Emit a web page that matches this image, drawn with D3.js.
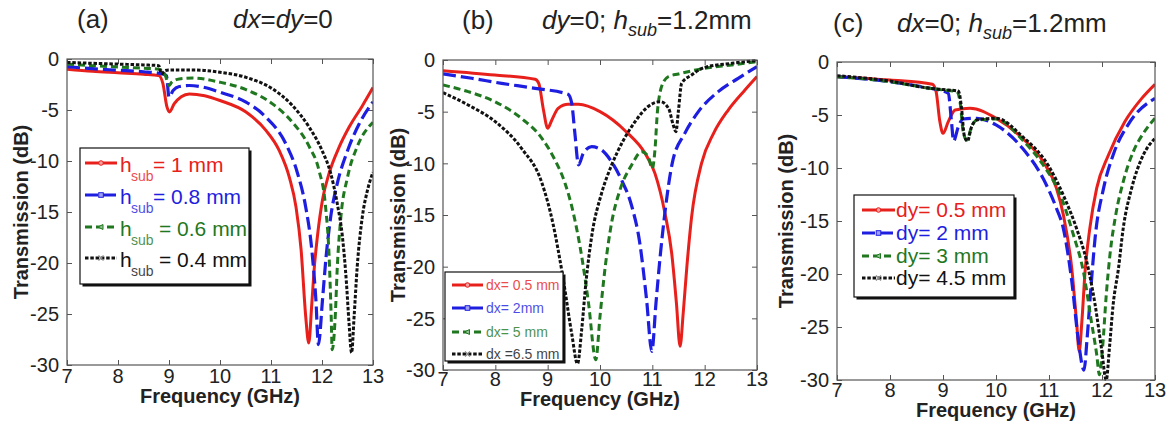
<!DOCTYPE html>
<html><head><meta charset="utf-8">
<script src="https://cdn.jsdelivr.net/npm/d3@7"></script>
<style>
body{margin:0;background:#fff}
svg{display:block}
text{font-family:Arial,"Liberation Sans",Helvetica,sans-serif}
</style>
</head><body>
<svg id="chart" width="1171" height="427"></svg>
<script>
// ---------------- data ----------------
const xTicks = [7, 8, 9, 10, 11, 12, 13];
const yTicks = [0, -5, -10, -15, -20, -25, -30];

// panel (a): dx = dy = 0, varying h_sub  [frequency GHz, transmission dB]
const aH10 = [[7,-1.0],[7.5,-1.2],[8,-1.35],[8.5,-1.5],[8.8,-1.63],[8.88,-2.4],[8.96,-4.7],[9.01,-5.2],[9.1,-4.4],[9.24,-3.7],[9.4,-3.42],[9.7,-3.6],[10.0,-4.07],[10.51,-5.2],[10.9,-7.0],[11.16,-8.96],[11.36,-11.6],[11.49,-14.5],[11.59,-18.7],[11.68,-25.2],[11.74,-27.85],[11.8,-24.0],[11.85,-20.4],[11.91,-17.4],[12.01,-13.8],[12.14,-11.2],[12.34,-8.6],[12.53,-6.7],[12.79,-4.6],[13,-2.8]];
const aH08 = [[7,-0.75],[7.5,-0.95],[8,-1.1],[8.5,-1.25],[8.8,-1.4],[8.95,-1.63],[9.0,-3.75],[9.08,-3.1],[9.2,-2.7],[9.4,-2.6],[9.7,-2.8],[10.0,-3.26],[10.51,-4.23],[10.9,-5.7],[11.29,-8.3],[11.52,-11.2],[11.68,-14.5],[11.8,-18.7],[11.88,-23.6],[11.93,-28.0],[12.01,-23.6],[12.08,-19.4],[12.17,-15.5],[12.3,-12.2],[12.5,-9.0],[12.73,-6.35],[13,-4.2]];
const aH06 = [[7,-0.5],[7.5,-0.65],[8,-0.78],[8.5,-0.9],[8.8,-1.0],[8.92,-1.5],[9.0,-2.6],[9.05,-2.3],[9.2,-1.95],[9.47,-1.86],[10.0,-2.28],[10.51,-3.0],[11.03,-4.4],[11.42,-6.2],[11.75,-8.6],[11.94,-10.9],[12.07,-14.5],[12.14,-19.4],[12.18,-25.2],[12.2,-28.5],[12.26,-25.2],[12.3,-20.4],[12.37,-15.5],[12.5,-11.6],[12.69,-8.6],[13,-6.2]];
const aH04 = [[7,-0.33],[7.5,-0.42],[8,-0.5],[8.5,-0.58],[8.8,-0.65],[8.85,-1.47],[8.92,-1.14],[9.0,-1.07],[9.47,-1.07],[10.0,-1.3],[10.51,-1.8],[11.03,-2.93],[11.42,-4.56],[11.75,-6.7],[12.0,-8.96],[12.17,-11.2],[12.3,-14.2],[12.4,-17.4],[12.48,-22.0],[12.53,-25.9],[12.58,-28.8],[12.63,-25.2],[12.69,-20.4],[12.79,-15.5],[12.89,-12.9],[13,-11.1]];

// panel (b): dy = 0, h_sub = 1.2 mm, varying dx
const bDx05 = [[7,-1.03],[7.99,-1.45],[8.76,-1.87],[8.83,-2.26],[8.92,-4.84],[9.0,-6.6],[9.08,-5.8],[9.2,-4.68],[9.39,-4.29],[9.59,-4.29],[10.0,-5.0],[10.5,-6.94],[10.86,-9.03],[11.05,-10.97],[11.24,-14.8],[11.37,-18.7],[11.46,-23.5],[11.53,-27.7],[11.59,-24.5],[11.66,-20.0],[11.75,-15.2],[11.94,-10.0],[12.17,-7.1],[12.45,-4.84],[12.77,-2.9],[13,-1.6]];
const bDx2 = [[7,-1.35],[7.55,-1.77],[8.12,-2.26],[8.76,-2.74],[9.39,-3.32],[9.46,-4.2],[9.52,-7.1],[9.59,-10.16],[9.68,-9.03],[9.84,-8.39],[10.03,-8.71],[10.22,-9.84],[10.41,-11.6],[10.61,-14.2],[10.76,-17.7],[10.89,-23.2],[10.99,-28.2],[11.07,-23.5],[11.15,-19.0],[11.24,-14.8],[11.38,-10.0],[11.62,-7.1],[11.88,-5.0],[12.26,-3.06],[12.64,-1.77],[13,-0.65]];
const bDx5 = [[7,-2.42],[7.48,-3.06],[7.99,-4.03],[8.5,-5.65],[8.89,-7.58],[9.14,-9.68],[9.33,-11.9],[9.49,-14.8],[9.65,-19.0],[9.78,-23.5],[9.92,-29.0],[10.0,-24.8],[10.1,-20.0],[10.22,-15.8],[10.38,-12.6],[10.6,-10.2],[10.8,-8.87],[10.92,-9.35],[11.0,-10.5],[11.05,-8.7],[11.1,-4.84],[11.2,-2.26],[11.31,-1.6],[11.5,-1.35],[12.0,-0.8],[12.52,-0.48],[13,-0.16]];
const bDx65 = [[7,-3.16],[7.48,-4.35],[8.0,-5.97],[8.5,-8.55],[8.89,-11.9],[9.1,-15.8],[9.3,-21.3],[9.46,-26.5],[9.57,-29.4],[9.65,-26.1],[9.73,-21.6],[9.84,-17.1],[10.03,-12.9],[10.22,-10.2],[10.45,-7.74],[10.67,-5.97],[10.92,-4.5],[11.15,-4.03],[11.31,-4.68],[11.4,-6.3],[11.45,-6.94],[11.5,-4.84],[11.56,-2.26],[11.75,-1.45],[12.0,-0.71],[12.52,-0.32],[13,-0.05]];

// panel (c): dx = 0, h_sub = 1.2 mm, varying dy
const cDy05 = [[7,-1.38],[8,-1.7],[8.8,-2.1],[8.87,-2.8],[8.94,-5.6],[9.0,-6.73],[9.1,-5.63],[9.23,-4.53],[9.51,-4.37],[10.0,-5.3],[10.5,-7.2],[10.89,-9.4],[11.14,-11.9],[11.27,-14.4],[11.43,-19.5],[11.52,-24.5],[11.57,-27.3],[11.62,-24.5],[11.68,-19.8],[11.77,-15.7],[11.9,-11.9],[12.12,-8.8],[12.43,-5.63],[12.75,-3.43],[13,-2.1]];
const cDy2 = [[7,-1.38],[8,-1.86],[8.75,-2.48],[9.0,-2.74],[9.1,-2.96],[9.16,-5.63],[9.2,-7.45],[9.29,-6.1],[9.38,-5.38],[9.64,-5.31],[10.0,-5.94],[10.5,-8.14],[10.89,-11.0],[11.14,-13.8],[11.27,-15.7],[11.43,-20.7],[11.55,-26.1],[11.66,-29.06],[11.72,-26.0],[11.79,-21.35],[11.87,-16.6],[12.03,-11.9],[12.21,-8.77],[12.53,-5.63],[13,-3.43]];
const cDy3 = [[7,-1.38],[8,-1.86],[8.75,-2.48],[9.0,-2.64],[9.26,-2.8],[9.33,-4.06],[9.38,-6.57],[9.45,-7.36],[9.54,-6.1],[9.64,-5.47],[10.0,-5.38],[10.5,-7.36],[10.89,-9.72],[11.21,-12.5],[11.46,-16.3],[11.65,-19.8],[11.8,-24.5],[11.9,-27.6],[11.95,-29.5],[12.01,-27.0],[12.08,-22.0],[12.15,-18.2],[12.26,-14.4],[12.4,-11.3],[12.59,-8.46],[12.78,-6.73],[13,-5.3]];
const cDy45 = [[7,-1.29],[8,-1.8],[8.75,-2.48],[9.0,-2.6],[9.29,-2.74],[9.35,-4.37],[9.4,-6.9],[9.46,-7.45],[9.54,-6.1],[9.64,-5.47],[10.0,-5.3],[10.5,-7.04],[11.0,-9.87],[11.3,-12.9],[11.52,-15.7],[11.71,-18.8],[11.87,-22.9],[11.99,-27.0],[12.08,-30.0],[12.14,-27.0],[12.21,-22.9],[12.31,-19.5],[12.4,-15.7],[12.56,-11.9],[12.78,-8.77],[13,-7.2]];

const aLabels = ["= 1 mm", "= 0.8 mm", "= 0.6 mm", "= 0.4 mm"];
const bLabels = ["dx= 0.5 mm", "dx= 2mm", "dx= 5 mm", "dx =6.5 mm"];
const cLabels = ["dy= 0.5 mm", "dy= 2 mm", "dy= 3 mm", "dy= 4.5 mm"];

// ---------------- styles / layout ----------------
const styles = [
  {color:"#e8201c", dash:null,      w:3.0, marker:"circle"},
  {color:"#1e1ee0", dash:"13,5",    w:3.2, marker:"square"},
  {color:"#1f781f", dash:"7,4",     w:3.0, marker:"tri"},
  {color:"#111111", dash:"3.5,1.8", w:3.0, marker:"x"}
];

const svg = d3.select("#chart");

const panels = [
  {key:"a", x0:67, x1:373, y0:59, y1:365, series:[aH10,aH08,aH06,aH04], ylabX:28, xlabY:403, tickY:383},
  {key:"b", x0:443, x1:757, y0:60, y1:370, series:[bDx05,bDx2,bDx5,bDx65], ylabX:405, xlabY:406, tickY:386},
  {key:"c", x0:837, x1:1155, y0:62, y1:380, series:[cDy05,cDy2,cDy3,cDy45], ylabX:793, xlabY:417, tickY:397}
];

function drawMarker(g, type, cx, cy, color){
  if(type==="circle") g.append("circle").attr("cx",cx).attr("cy",cy).attr("r",2.3).attr("fill","#f3a0a0").attr("stroke",color).attr("stroke-width",1);
  else if(type==="square") g.append("rect").attr("x",cx-2.3).attr("y",cy-2.3).attr("width",4.6).attr("height",4.6).attr("fill","#a0a0f0").attr("stroke",color).attr("stroke-width",1);
  else if(type==="tri") g.append("path").attr("d",`M${cx-3},${cy}L${cx+2},${cy-2.5}L${cx+2},${cy+2.5}Z`).attr("fill","#90c090").attr("stroke",color).attr("stroke-width",1);
  else g.append("path").attr("d",`M${cx-2.5},${cy-2.5}L${cx+2.5},${cy+2.5}M${cx-2.5},${cy+2.5}L${cx+2.5},${cy-2.5}`).attr("stroke","#888").attr("stroke-width",1.2);
}

panels.forEach((p, pi) => {
  const x = d3.scaleLinear().domain([7,13]).range([p.x0,p.x1]);
  const y = d3.scaleLinear().domain([-30,0]).range([p.y1,p.y0]);
  const g = svg.append("g");

  const clipId = "clip"+p.key;
  svg.append("clipPath").attr("id",clipId).append("rect")
    .attr("x",p.x0).attr("y",p.y0-1).attr("width",p.x1-p.x0).attr("height",p.y1-p.y0+2);

  const tl = 5;
  const styleAxis = s=>{s.select(".domain").remove(); s.selectAll("line").attr("stroke","#555");};
  g.append("g").attr("transform",`translate(0,${p.y1})`)
    .call(d3.axisBottom(x).tickValues(xTicks).tickSize(-tl).tickFormat("")).call(styleAxis);
  g.append("g").attr("transform",`translate(0,${p.y0})`)
    .call(d3.axisTop(x).tickValues(xTicks).tickSize(-tl).tickFormat("")).call(styleAxis);
  g.append("g").attr("transform",`translate(${p.x0},0)`)
    .call(d3.axisLeft(y).tickValues(yTicks).tickSize(-tl).tickFormat("")).call(styleAxis);
  g.append("g").attr("transform",`translate(${p.x1},0)`)
    .call(d3.axisRight(y).tickValues(yTicks).tickSize(-tl).tickFormat("")).call(styleAxis);

  g.selectAll(".xl").data(xTicks).enter().append("text")
    .attr("x",d=>x(d)).attr("y",p.tickY).attr("text-anchor","middle")
    .attr("font-size",20).attr("fill","#222").text(d=>d);
  g.selectAll(".yl").data(yTicks).enter().append("text")
    .attr("x",p.x0-8).attr("y",d=>y(d)).attr("dy","0.36em").attr("text-anchor","end")
    .attr("font-size",20).attr("fill","#222").text(d=>d);

  g.append("text").attr("x",(p.x0+p.x1)/2).attr("y",p.xlabY).attr("text-anchor","middle")
    .attr("font-size",20).attr("font-weight","bold").attr("fill","#222").text("Frequency (GHz)");
  g.append("text").attr("transform",`translate(${p.ylabX},${(p.y0+p.y1)/2}) rotate(-90)`)
    .attr("text-anchor","middle").attr("font-size",20).attr("font-weight","bold").attr("fill","#222")
    .text("Transmission (dB)");

  const line = d3.line().x(d=>x(d[0])).y(d=>y(d[1])).curve(d3.curveMonotoneX);
  const cg = g.append("g").attr("clip-path",`url(#${clipId})`);
  p.series.forEach((s,i)=>{
    const st = styles[i];
    cg.append("path").datum(s).attr("d",line).attr("fill","none")
      .attr("stroke",st.color).attr("stroke-width",st.w)
      .attr("stroke-dasharray",st.dash).attr("stroke-linejoin","round");
  });

  g.append("rect").attr("x",p.x0).attr("y",p.y0).attr("width",p.x1-p.x0).attr("height",p.y1-p.y0)
    .attr("fill","none").attr("stroke","#555").attr("stroke-width",1.2);
});

// ---------------- legends ----------------
function legendBox(x0,y0,w,h){
  svg.append("rect").attr("x",x0+2.5).attr("y",y0+2.5).attr("width",w).attr("height",h).attr("fill","#111");
  svg.append("rect").attr("x",x0).attr("y",y0).attr("width",w).attr("height",h).attr("fill","#fff").attr("stroke","#111").attr("stroke-width",1.2);
}
function sample(g, i, xa, xb, yy){
  const st = styles[i];
  g.append("line").attr("x1",xa).attr("x2",xb).attr("y1",yy).attr("y2",yy)
    .attr("stroke",st.color).attr("stroke-width",st.w).attr("stroke-dasharray",st.dash);
  drawMarker(g, st.marker, (xa+xb)/2, yy, st.color);
}

// (a)
legendBox(80,148,169,136);
const la = svg.append("g");
const aRowY = [163,195,227,258];
const aEqX = [153,153,159,159];
aLabels.forEach((t,i)=>{
  const yy = aRowY[i], c = styles[i].color;
  sample(la,i,85,117,yy);
  la.append("text").attr("x",120).attr("y",yy+9).attr("font-size",21).attr("fill",c).text("h");
  la.append("text").attr("x",131).attr("y",yy+18).attr("font-size",14).attr("fill",c).attr("opacity",0.8).text("sub");
  la.append("text").attr("x",aEqX[i]).attr("y",yy+9).attr("font-size",21).attr("fill",c).text(t);
});

// (b)
legendBox(445,272,118,89);
const lb = svg.append("g");
const bRowY = [285,308,332,354];
bLabels.forEach((t,i)=>{
  const yy = bRowY[i];
  sample(lb,i,452,483,yy);
  lb.append("text").attr("x",486).attr("y",yy+5).attr("font-size",14).attr("fill",styles[i].color).attr("opacity",0.8).text(t);
});

// (c)
legendBox(854,195,160,102);
const lc = svg.append("g");
const cRowY = [210,233,256,278];
cLabels.forEach((t,i)=>{
  const yy = cRowY[i];
  sample(lc,i,862,895,yy);
  lc.append("text").attr("x",896).attr("y",yy+7).attr("font-size",21).attr("fill",styles[i].color).text(t);
});

// ---------------- panel titles ----------------
function title(xl, label, xt, yb, parts){
  svg.append("text").attr("x",xl).attr("y",yb).attr("font-size",26).attr("fill","#222").text(label);
  const t = svg.append("text").attr("x",xt).attr("y",yb).attr("font-size",26).attr("fill","#222");
  parts.forEach(pt=>{
    const ts = t.append("tspan").text(pt.t);
    if(pt.i) ts.attr("font-style","italic");
    if(pt.sub) ts.attr("font-size",18).attr("dy",7);
    if(pt.up) ts.attr("dy",-7);
  });
}
title(77,"(a)",233,28,[{t:"dx",i:1},{t:"="},{t:"dy",i:1},{t:"=0"}]);
title(462,"(b)",542,29,[{t:"dy",i:1},{t:"=0; "},{t:"h",i:1},{t:"sub",i:1,sub:1},{t:"=1.2mm",up:1}]);
title(833,"(c)",897,32,[{t:"dx",i:1},{t:"=0; "},{t:"h",i:1},{t:"sub",i:1,sub:1},{t:"=1.2mm",up:1}]);
</script>
</body></html>
